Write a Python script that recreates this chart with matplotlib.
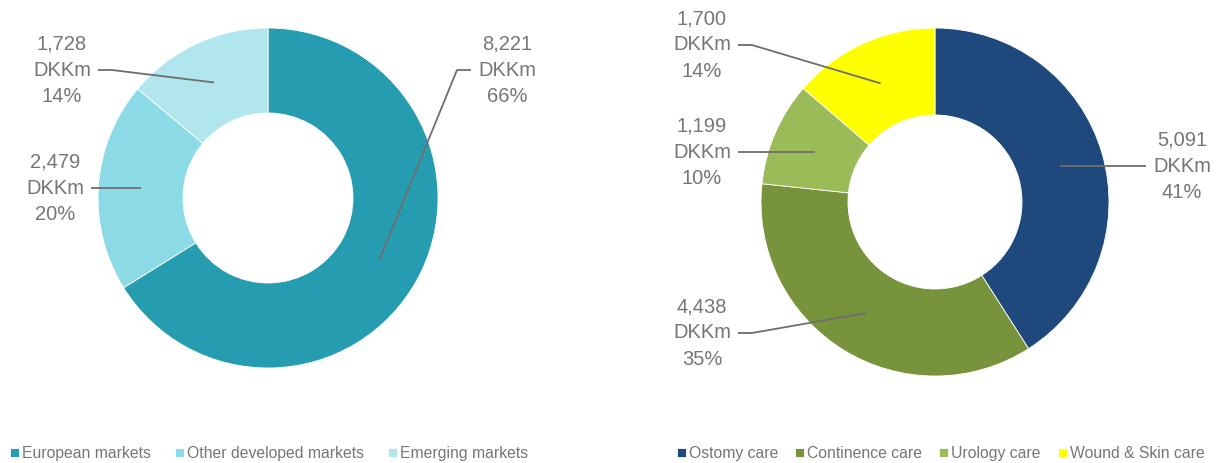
import numpy as np
import matplotlib
matplotlib.use("Agg")
import matplotlib.pyplot as plt

plt.rcParams['font.family'] = ['Liberation Sans', 'DejaVu Sans']

# ---- data ----
region_names = ["European markets", "Other developed markets", "Emerging markets"]
region_values = [8221, 2479, 1728]
region_pcts = ["66%", "20%", "14%"]
region_colors = ["#259CAF", "#8CDAE6", "#B2E6EF"]

segment_names = ["Ostomy care", "Continence care", "Urology care", "Wound & Skin care"]
segment_values = [5091, 4438, 1199, 1700]
segment_pcts = ["41%", "35%", "10%", "14%"]
segment_colors = ["#1F497D", "#77933C", "#9BBB59", "#FFFF00"]

W, H = 1220, 463
TEXT = "#767676"
LINE = "#6E6E6E"

fig = plt.figure(figsize=(W / 100, H / 100), dpi=100)
ax = fig.add_axes([0, 0, 1, 1])


def donut(values, colors, center, R):
    wedges, _ = ax.pie(values, colors=colors, startangle=90, counterclock=False,
                       radius=R, center=center,
                       wedgeprops=dict(width=R * 0.5, edgecolor='white', linewidth=0.6))
    return wedges


def anchor(w, center, R):
    ang = np.deg2rad((w.theta1 + w.theta2) / 2)
    r = 0.75 * R
    return center[0] + r * np.cos(ang), center[1] + r * np.sin(ang)


def label(w, center, R, value, pct, tx, ty, side):
    ax_, ay_ = anchor(w, center, R)
    ty = H - ty
    txt = f"{value:,}\nDKKm\n{pct}"
    ax.text(tx, ty, txt, ha='center', va='center', fontsize=14.5, color=TEXT,
            linespacing=1.48)
    if side == 'left':
        x0 = tx + 36
        xs = [x0, x0 + 14, ax_] if abs(ay_ - ty) > 6 else [x0, ax_]
    else:
        x0 = tx - 36
        xs = [x0, x0 - 14, ax_] if abs(ay_ - ty) > 6 else [x0, ax_]
    ys = [ty, ty, ay_] if len(xs) == 3 else [ty, ty]
    ax.plot(xs, ys, color=LINE, lw=1.3, solid_capstyle='butt')


cL, RL = (268, H - 198), 170
cR, RR = (935, H - 202), 174

wl = donut(region_values, region_colors, cL, RL)
wr = donut(segment_values, segment_colors, cR, RR)

# label positions (layout)
label(wl[0], cL, RL, region_values[0], region_pcts[0], 507, 70, 'right')
label(wl[1], cL, RL, region_values[1], region_pcts[1], 55, 188, 'left')
label(wl[2], cL, RL, region_values[2], region_pcts[2], 62, 70, 'left')

label(wr[0], cR, RR, segment_values[0], segment_pcts[0], 1182, 166, 'right')
label(wr[1], cR, RR, segment_values[1], segment_pcts[1], 702, 333, 'left')
label(wr[2], cR, RR, segment_values[2], segment_pcts[2], 702, 152, 'left')
label(wr[3], cR, RR, segment_values[3], segment_pcts[3], 702, 45, 'left')

ax.set_xlim(0, W)
ax.set_ylim(0, H)
ax.set_aspect('equal')
ax.axis('off')

legkw = dict(ncol=4, frameon=False, fontsize=11.3, handlelength=0.55, handleheight=0.55,
             handletextpad=0.2, labelcolor=TEXT, borderaxespad=0, borderpad=0)
fig.legend(wl, region_names, loc='lower left', bbox_to_anchor=(10 / W, 2 / H),
           columnspacing=1.55, **legkw)
fig.legend(wr, segment_names, loc='lower left', bbox_to_anchor=(677 / W, 2 / H),
           columnspacing=1.1, **legkw)

fig.savefig("out.png", dpi=100)
